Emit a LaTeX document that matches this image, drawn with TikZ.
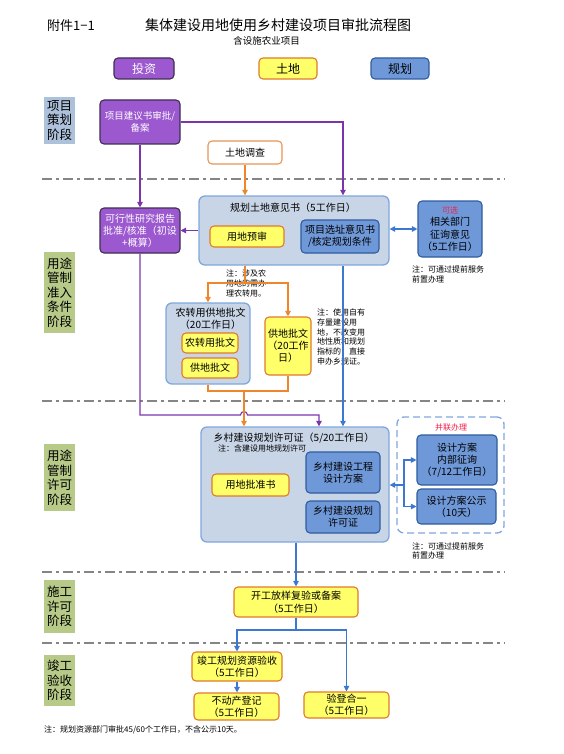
\documentclass[tikz,border=0pt]{standalone}
\usepackage{fontspec}
\setmainfont{Noto Sans CJK SC}
\usetikzlibrary{arrows.meta}
\definecolor{purF}{HTML}{9B58CF}
\definecolor{purD}{HTML}{3E2D52}
\definecolor{purL}{HTML}{7A35AA}
\definecolor{yelF}{HTML}{FFFF6A}
\definecolor{orgD}{HTML}{E07A2A}
\definecolor{orgL}{HTML}{F0862A}
\definecolor{bluF}{HTML}{6F98D8}
\definecolor{bluD}{HTML}{2F5C9F}
\definecolor{bluL}{HTML}{3C78D2}
\definecolor{conF}{HTML}{C8D5E7}
\definecolor{conD}{HTML}{80A6DE}
\definecolor{stgB}{HTML}{AEC1DB}
\definecolor{stgG}{HTML}{B7CA88}
\definecolor{dashG}{HTML}{858585}
\definecolor{redT}{HTML}{F2204A}
\newcommand\fsz[2]{\fontsize{#1}{#2}\selectfont}
\begin{document}
\begin{tikzpicture}[x=1pt,y=-1pt,
  box/.style={draw, rounded corners=4pt, align=center, inner sep=0pt, line width=1.1pt, font=\fsz{10}{12}},
  purbox/.style={box, fill=purF, draw=purD, text=white},
  yelbox/.style={box, fill=yelF, draw=orgD},
  blubox/.style={box, fill=bluF, draw=bluD},
  cont/.style={draw=conD, fill=conF, rounded corners=6pt, line width=1.3pt, inner sep=0pt},
  stage/.style={inner sep=0pt, align=center, font=\fsz{12.5}{14.5}},
  note/.style={align=left, anchor=west, inner sep=0pt, font=\fsz{8}{10}},
  ttl/.style={inner sep=0pt, align=center, font=\fsz{10}{11.5}},
  dl/.style={draw=dashG, line width=1.4pt, dash pattern=on 10pt off 4pt on 3pt off 4pt},
  tip/.style={-{Triangle[length=5.5pt,width=5.5pt]}},
  pline/.style={draw=purL, line width=1.1pt},
  oline/.style={draw=orgL, line width=1.1pt},
  bline/.style={draw=bluL, line width=1.1pt},
  sz/.style 2 args={minimum width=#1pt, minimum height=#2pt}
]
\useasboundingbox (0,0) rectangle (563,754);
% stage separators
\draw[dl] (42,179) -- (505,179);
\draw[dl] (42,401) -- (505,401);
\draw[dl] (42,572) -- (505,572);
\draw[dl] (42,643) -- (505,643);

% header
\node[inner sep=0pt, font=\fsz{13}{15}] (fj) at (71,26) {附件1−1};
\node[inner sep=0pt, font=\fsz{14}{16}] (title) at (278,25) {集体建设用地使用乡村建设项目审批流程图};
\node[inner sep=0pt, font=\fsz{9.5}{11}] (sub) at (266.5,41) {含设施农业项目};
\node[purbox, sz={60}{21}, font=\fsz{12}{14}] (lg1) at (144,68.5) {投资};
\node[yelbox, sz={58}{21}, font=\fsz{12}{14}] (lg2) at (288,68.5) {土地};
\node[blubox, sz={58}{21}, font=\fsz{12}{14}] (lg3) at (400,68.5) {规划};

% stage labels
\node[stage, fill=stgB, sz={31}{47}] (s1) at (59.5,120.5) {项目\\策划\\阶段};
\node[stage, fill=stgG, sz={31}{81}] (s2) at (59.5,292.5) {用途\\管制\\准入\\条件\\阶段};
\node[stage, fill=stgG, sz={31}{67}] (s3) at (59.5,477.5) {用途\\管制\\许可\\阶段};
\node[stage, fill=stgG, sz={31}{53}] (s4) at (59.5,606.5) {施工\\许可\\阶段};
\node[stage, fill=stgG, sz={31}{51}] (s5) at (59.5,680.5) {竣工\\验收\\阶段};

% stage 1
\node[purbox, sz={80}{44}, font=\fsz{9.5}{12}] (p1) at (140,122) {项目建议书审批/\\备案};
\node[box, draw=orgD!80, fill=white, sz={74}{23}] (td) at (245,152.5) {土地调查};

% stage 2
\node[cont, sz={190}{69}] (gh) at (294,230.5) {};
\node[ttl] (ghT) at (293,208) {规划土地意见书（5工作日）};
\node[yelbox, sz={74}{21}] (yd) at (247,236.5) {用地预审};
\node[blubox, sz={78}{33}] (xz) at (340,236.5) {项目选址意见书\\/核定规划条件};
\node[purbox, sz={80}{45}] (kx) at (140,230.5) {可行性研究报告\\批准/核准（初设\\+概算）};
\node[blubox, sz={64}{56}, font=\fsz{10}{12.3}] (xg) at (450,229) {{\color{redT}\fsz{8}{10}可选}\\相关部门\\征询意见\\（5工作日）};
\node[note] (n1) at (412,274.5) {注：可通过提前服务\\前置办理};
\node[note] (n2) at (226,283.5) {注：涉及农\\用地的需办\\理农转用。};

\node[cont, sz={84}{81}] (nz) at (208,343.5) {};
\node[ttl] (nzT) at (210.5,318.5) {农转用供地批文\\（20工作日）};
\node[yelbox, sz={56}{20}] (nz1) at (210,343) {农转用批文};
\node[yelbox, sz={56}{20}] (nz2) at (210,368) {供地批文};
\node[yelbox, sz={46}{58}] (gd2) at (288,346) {供地批文\\（20工作\\日）};
\node[note, font=\fsz{8}{9.8}] (n3) at (317,337) {注：使用自有\\存量建设用\\地，不改变用\\地性质和规划\\指标的，直接\\申办乡规证。};

% stage 3
\node[cont, sz={188}{115}] (xk) at (295,484.5) {};
\node[ttl] (xkT) at (294,438) {乡村建设规划许可证（5/20工作日）};
\node[inner sep=0pt, font=\fsz{8}{9}] (xkN) at (262,448) {注：含建设用地规划许可};
\node[yelbox, sz={77}{22}] (ydp) at (250.5,485) {用地批准书};
\node[blubox, sz={74}{41}] (sj) at (343,472.5) {乡村建设工程\\设计方案};
\node[blubox, sz={74}{32}] (xkz) at (343,517) {乡村建设规划\\许可证};
\node[draw=conD, fill=white, rounded corners=7pt, line width=1.3pt, dash pattern=on 7pt off 4pt, sz={107}{116}, inner sep=0pt] (bl) at (450.5,475) {};
\node[inner sep=0pt, text=redT, font=\fsz{8}{9}] (blT) at (451,427) {并联办理};
\node[blubox, sz={80}{50}] (nb) at (457,460) {设计方案\\内部征询\\（7/12工作日）};
\node[blubox, sz={79}{35}] (gs) at (456.5,506.5) {设计方案公示\\（10天）};
\node[note, font=\fsz{8}{9}] (n4) at (412,550.5) {注：可通过提前服务\\前置办理};

% stage 4 and 5
\node[yelbox, sz={124}{30}, font=\fsz{10}{12.5}] (kg) at (296,602) {开工放样复验或备案\\（5工作日）};
\node[yelbox, sz={90}{29}] (jg) at (237,666.5) {竣工规划资源验收\\（5工作日）};
\node[yelbox, sz={85}{27}] (bd) at (236.5,706.5) {不动产登记\\（5工作日）};
\node[yelbox, sz={85}{26}] (ydh) at (346.5,705) {验登合一\\（5工作日）};
\node[note] (fn) at (44,730) {注：规划资源部门审批45/60个工作日，不含公示10天。};

% coordinates
\coordinate (bx) at (343,0);
\coordinate (o1) at (245,283);
\coordinate (o2) at (244,391);
\coordinate (pA) at (140,415);
\coordinate (j1) at (240.5,415);
\coordinate (j2) at (247.5,415);
\coordinate (pB) at (319,415);
\coordinate (f) at (404,485);
\coordinate (b2) at (296,630);

% connectors
\draw[pline, tip] (p1.east) -| (gh.north -| bx);
\draw[oline, tip] (td.south) -- (gh.north -| td.south);
\draw[pline, tip] (p1.south) -- (kx.north);
\draw[pline, tip] (gh.west |- kx.east) -- (kx.east);
\draw[bline, {Triangle[length=5.5pt,width=5.5pt]}-{Triangle[length=5.5pt,width=5.5pt]}] (gh.east |- xg.west) -- (xg.west);
\draw[oline] (gh.south -| o1) -- (o1);
\draw[oline, tip] (o1) -| (nz.north);
\draw[oline, tip] (o1) -| (gd2.north);
\draw[oline] (nz.south) |- (o2);
\draw[oline] (gd2.south) |- (o2);
\draw[pline, tip] (kx.south) -- (pA) -- (j1) .. controls (240.5,410.5) and (247.5,410.5) .. (j2) -- (pB) -- (xk.north -| pB);
\draw[oline, tip] (o2) -- (xk.north -| o2);
\draw[bline, tip] (gh.south -| bx) -- (xk.north -| bx);
\draw[bline, tip] (f) -- (xk.east |- f);
\draw[bline, tip] (f) |- (nb.west);
\draw[bline, tip] (f) |- (gs.west);
\draw[bline, tip] (xk.south -| kg.north) -- (kg.north);
\draw[bline] (kg.south) -- (b2);
\draw[bline, tip] (b2) -| (jg.north);
\draw[bline, tip] (b2) -| (ydh.north);
\draw[bline, tip] (jg.south) -- (jg.south |- bd.north);
\end{tikzpicture}
\end{document}
